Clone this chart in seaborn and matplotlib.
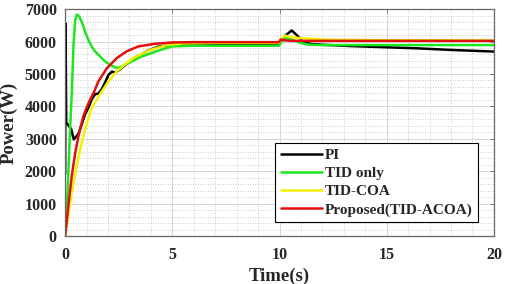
import numpy as np
import pandas as pd
import seaborn as sns
import matplotlib
matplotlib.use("Agg")
import matplotlib.pyplot as plt
from matplotlib.ticker import MultipleLocator

# ---- data ----
t_pi = [0, 0.02, 0.05, 0.28, 0.40, 0.62, 0.78, 0.93, 1.09, 1.24, 1.40, 1.55, 1.71, 1.86, 2.02,
        2.18, 2.33, 2.49, 2.64, 2.95, 3.42, 3.88, 4.35, 4.82, 5.3, 6, 8, 9.98, 10.1, 10.3, 10.57,
        10.8, 11.1, 11.4, 12, 13.3, 16.4, 18, 20]
p_pi = [1900, 6550, 3500, 3300, 2980, 3150, 3455, 3760, 3965, 4220, 4375, 4395, 4530, 4735, 4970,
        5070, 5040, 5110, 5190, 5350, 5550, 5725, 5840, 5890, 5920, 5930, 5930, 5930, 6050, 6200, 6340,
        6200, 6000, 5930, 5900, 5860, 5790, 5740, 5690]

t_tid = [0, 0.08, 0.15, 0.23, 0.31, 0.39, 0.47, 0.54, 0.65, 0.78, 0.93, 1.09, 1.24, 1.40, 1.63,
         1.86, 2.10, 2.33, 2.49, 2.64, 2.95, 3.5, 4.27, 4.74, 5.0, 6, 8, 9.98, 10.1, 10.3, 10.6,
         11.0, 11.4, 12, 15, 20]
p_tid = [0, 900, 1970, 3300, 4400, 5900, 6650, 6830, 6780, 6600, 6300, 6040, 5840, 5690, 5540,
         5385, 5280, 5200, 5190, 5230, 5330, 5520, 5700, 5800, 5850, 5870, 5870, 5870, 6000, 6100, 6050,
         5950, 5900, 5890, 5890, 5890]

t_coa = [0, 0.15, 0.31, 0.54, 0.70, 0.93, 1.24, 1.63, 2.02, 2.41, 2.8, 3.18, 3.96, 4.74, 5.5, 7,
         9.98, 10.1, 10.26, 10.6, 11.0, 11.5, 12.5, 15, 20]
p_coa = [0, 630, 1350, 2170, 2680, 3300, 3950, 4380, 4770, 5080, 5300, 5490, 5740, 5890, 5940, 5960,
         5960, 6100, 6180, 6130, 6100, 6080, 6050, 6040, 6030]

t_acoa = [0, 0.15, 0.31, 0.47, 0.62, 0.85, 1.09, 1.35, 1.55, 1.94, 2.41, 2.88, 3.42, 4.2, 4.97, 6,
          8, 9.98, 10.05, 10.2, 10.5, 12, 15, 20]
p_acoa = [0, 940, 1860, 2570, 3080, 3700, 4100, 4450, 4770, 5170, 5490, 5700, 5850, 5930, 5970, 5980,
          5980, 5980, 6060, 6040, 6020, 6020, 6020, 6020]

labels = ["PI", "TID only", "TID-COA", "Proposed(TID-ACOA)"]
colors = ["#000000", "#1ee61e", "#f2f200", "#e01010"]
x_ticks = [0, 5, 10, 15, 20]
y_ticks = [0, 1000, 2000, 3000, 4000, 5000, 6000, 7000]

frames = []
for lab, tt, pp in zip(labels, [t_pi, t_tid, t_coa, t_acoa], [p_pi, p_tid, p_coa, p_acoa]):
    frames.append(pd.DataFrame({"Time": tt, "Power": pp, "Controller": lab}))
df = pd.concat(frames, ignore_index=True)

sns.set_style("white")
plt.rcParams["font.family"] = ["Liberation Serif", "DejaVu Serif"]
plt.rcParams["font.weight"] = "bold"

fig = plt.figure(figsize=(5.05, 2.84), dpi=100)
ax = fig.add_axes([0.129, 0.169, 0.849, 0.799])

sns.lineplot(data=df, x="Time", y="Power", hue="Controller", hue_order=labels,
             palette=colors, estimator=None, sort=False, linewidth=1.8, ax=ax)

ax.set_xlim(0, 20)
ax.set_ylim(0, 7000)
ax.set_xticks(x_ticks)
ax.set_yticks(y_ticks)
ax.xaxis.set_minor_locator(MultipleLocator(1))
ax.yaxis.set_minor_locator(MultipleLocator(200))
ax.grid(which="major", color="#d6d6d6", linewidth=0.7, linestyle="-")
ax.grid(which="minor", color="#bcbcbc", linewidth=0.6, linestyle=(0, (1, 2)))
ax.set_axisbelow(True)
ax.tick_params(which="major", direction="in", length=3, width=0.6, color="#666666",
               labelsize=11.5, pad=6, top=True, right=True)
ax.tick_params(axis="x", which="major", pad=8)
ax.tick_params(which="minor", length=0)
for lab in ax.get_xticklabels() + ax.get_yticklabels():
    lab.set_fontweight("bold")
for sp in ax.spines.values():
    sp.set_color("#666666")
    sp.set_linewidth(0.9)

ax.set_xlabel("Time(s)", fontsize=13.5, fontweight="bold", labelpad=3)
ax.set_ylabel("Power(W)", fontsize=13.5, fontweight="bold", labelpad=5)

leg = ax.legend(loc="lower right", bbox_to_anchor=(0.963, 0.062), borderaxespad=0,
                frameon=True, fancybox=False, framealpha=1, edgecolor="black",
                prop={"weight": "bold", "size": 11}, handlelength=2.7,
                handletextpad=0.2, labelspacing=0.28, borderpad=0.35)
leg.get_frame().set_linewidth(0.8)
for h in leg.get_lines():
    h.set_linewidth(1.8)

fig.savefig("out.png", dpi=100)
